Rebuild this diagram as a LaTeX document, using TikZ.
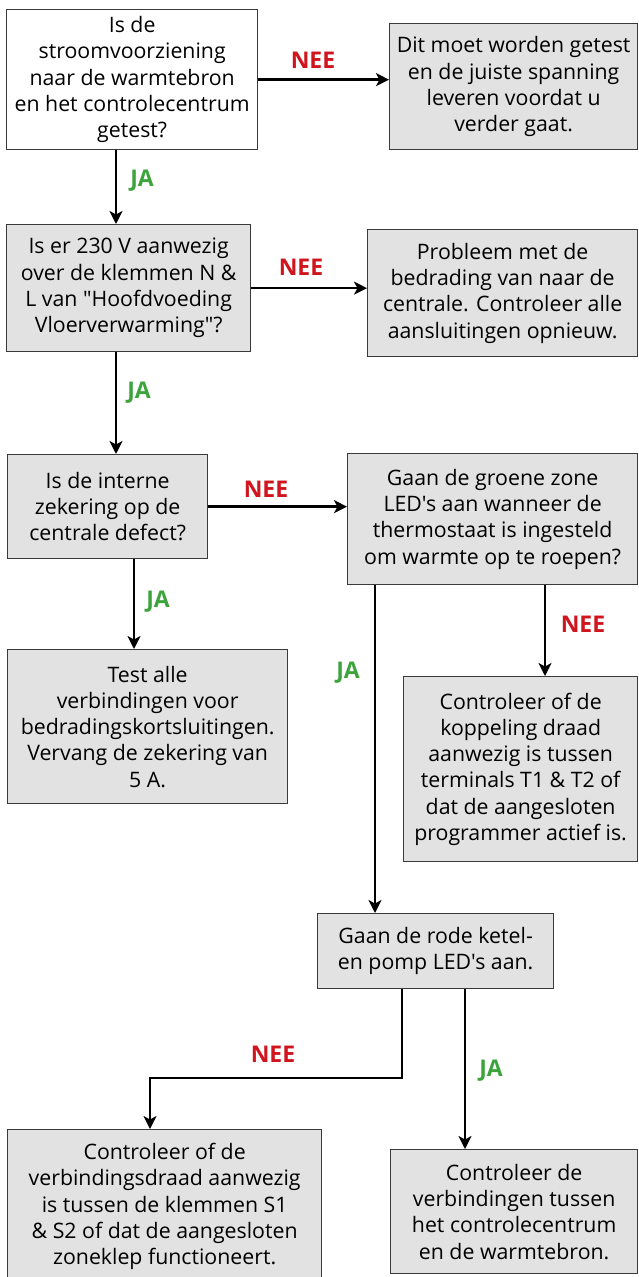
\documentclass[tikz,border=0pt]{standalone}
\usepackage{fontspec}
\newfontfamily\boxfont{Open Sans}
\usepackage{xcolor}
\usepackage{tikz}
\usetikzlibrary{arrows.meta,positioning}

\definecolor{neered}{HTML}{D0151E}
\definecolor{jagreen}{HTML}{3DA33D}
\definecolor{boxgray}{HTML}{E2E2E2}
\definecolor{boxline}{HTML}{3A3A3A}

\begin{document}
\begin{tikzpicture}[
    x=1pt, y=-1pt,
    box/.style={draw=boxline, line width=1.3pt, fill=boxgray, anchor=north west, align=center, inner sep=0pt, font=\boxfont\fontsize{21.3}{26.3}\selectfont},
    arrow/.style={-{Stealth[length=13pt, width=13pt, inset=3.5pt]}, line width=2.6pt},
    nee/.style={text=neered, font=\boxfont\bfseries\fontsize{23}{26}\selectfont},
    ja/.style={text=jagreen, font=\boxfont\bfseries\fontsize{23}{26}\selectfont}
]
\useasboundingbox (0,0) rectangle (638,1277);

\node[box, fill=white, minimum width=251pt, minimum height=140pt] (b1) at (6,9) {Is de\\stroomvoorziening\\naar de warmtebron\\en het controlecentrum\\getest?};
\node[box, minimum width=248pt, minimum height=126pt] (b2) at (389,23) {Dit moet worden getest\\en de juiste spanning\\leveren voordat u\\verder gaat.};
\node[box, minimum width=244pt, minimum height=127pt] (b3) at (6,224) {Is er 230 V aanwezig\\over de klemmen N \&\\L van "Hoofdvoeding\\Vloerverwarming"?};
\node[box, minimum width=270pt, minimum height=127pt] (b4) at (367,229) {Probleem met de\\bedrading van naar de\\centrale. Controleer alle\\aansluitingen opnieuw.};
\node[box, minimum width=200pt, minimum height=104pt] (b5) at (7,454) {Is de interne\\zekering op de\\centrale defect?};
\node[box, minimum width=290pt, minimum height=131pt] (b6) at (347,453) {Gaan de groene zone\\LED's aan wanneer de\\thermostaat is ingesteld\\om warmte op te roepen?};
\node[box, minimum width=280pt, minimum height=154pt] (b7) at (7,649) {Test alle\\verbindingen voor\\bedradingskortsluitingen.\\Vervang de zekering van\\5 A.};
\node[box, minimum width=234pt, minimum height=185pt] (b8) at (403,676) {Controleer of de\\koppeling draad\\aanwezig is tussen\\terminals T1 \& T2 of\\dat de aangesloten\\programmer actief is.};
\node[box, minimum width=236pt, minimum height=75pt] (b9) at (317,913) {Gaan de rode ketel-\\en pomp LED's aan.};
\node[box, minimum width=314pt, minimum height=154pt] (b10) at (7,1129) {Controleer of de\\verbindingsdraad aanwezig\\is tussen de klemmen S1\\\& S2 of dat de aangesloten\\zoneklep functioneert.};
\node[box, minimum width=247pt, minimum height=124pt] (b11) at (390,1149) {Controleer de\\verbindingen tussen\\het controlecentrum\\en de warmtebron.};

% connector columns
\coordinate (colA) at (116,0);
\coordinate (colB) at (134,0);
\coordinate (colC) at (375,0);
\coordinate (colD) at (545,0);
\coordinate (colE) at (402,0);
\coordinate (colF) at (465,0);
\coordinate (bend) at (150,1078);

\draw[arrow] (b1.east) -- (b1.east -| b2.west);
\draw[arrow] (b3.east) -- (b3.east -| b4.west);
\draw[arrow] (b5.east) -- (b5.east -| b6.west);
\draw[arrow] (b1.south -| colA) -- (b3.north -| colA);
\draw[arrow] (b3.south -| colA) -- (b5.north -| colA);
\draw[arrow] (b5.south -| colB) -- (b7.north -| colB);
\draw[arrow] (b6.south -| colC) -- (b9.north -| colC);
\draw[arrow] (b6.south -| colD) -- (b8.north -| colD);
\draw[arrow] (b9.south -| colE) |- (bend) -- (b10.north -| bend);
\draw[arrow] (b9.south -| colF) -- (b11.north -| colF);

% labels
\node[nee] (n1) at (313,60) {NEE};
\node[ja] (j1) at (142,181) {JA};
\node[nee] (n2) at (301,267) {NEE};
\node[ja] (j2) at (139,393) {JA};
\node[nee] (n3) at (266,489) {NEE};
\node[ja] (j3) at (158,602) {JA};
\node[ja] (j4) at (348,673) {JA};
\node[nee] (n4) at (583,624) {NEE};
\node[nee] (n5) at (273,1054) {NEE};
\node[ja] (j5) at (491,1071) {JA};
\end{tikzpicture}
\end{document}
